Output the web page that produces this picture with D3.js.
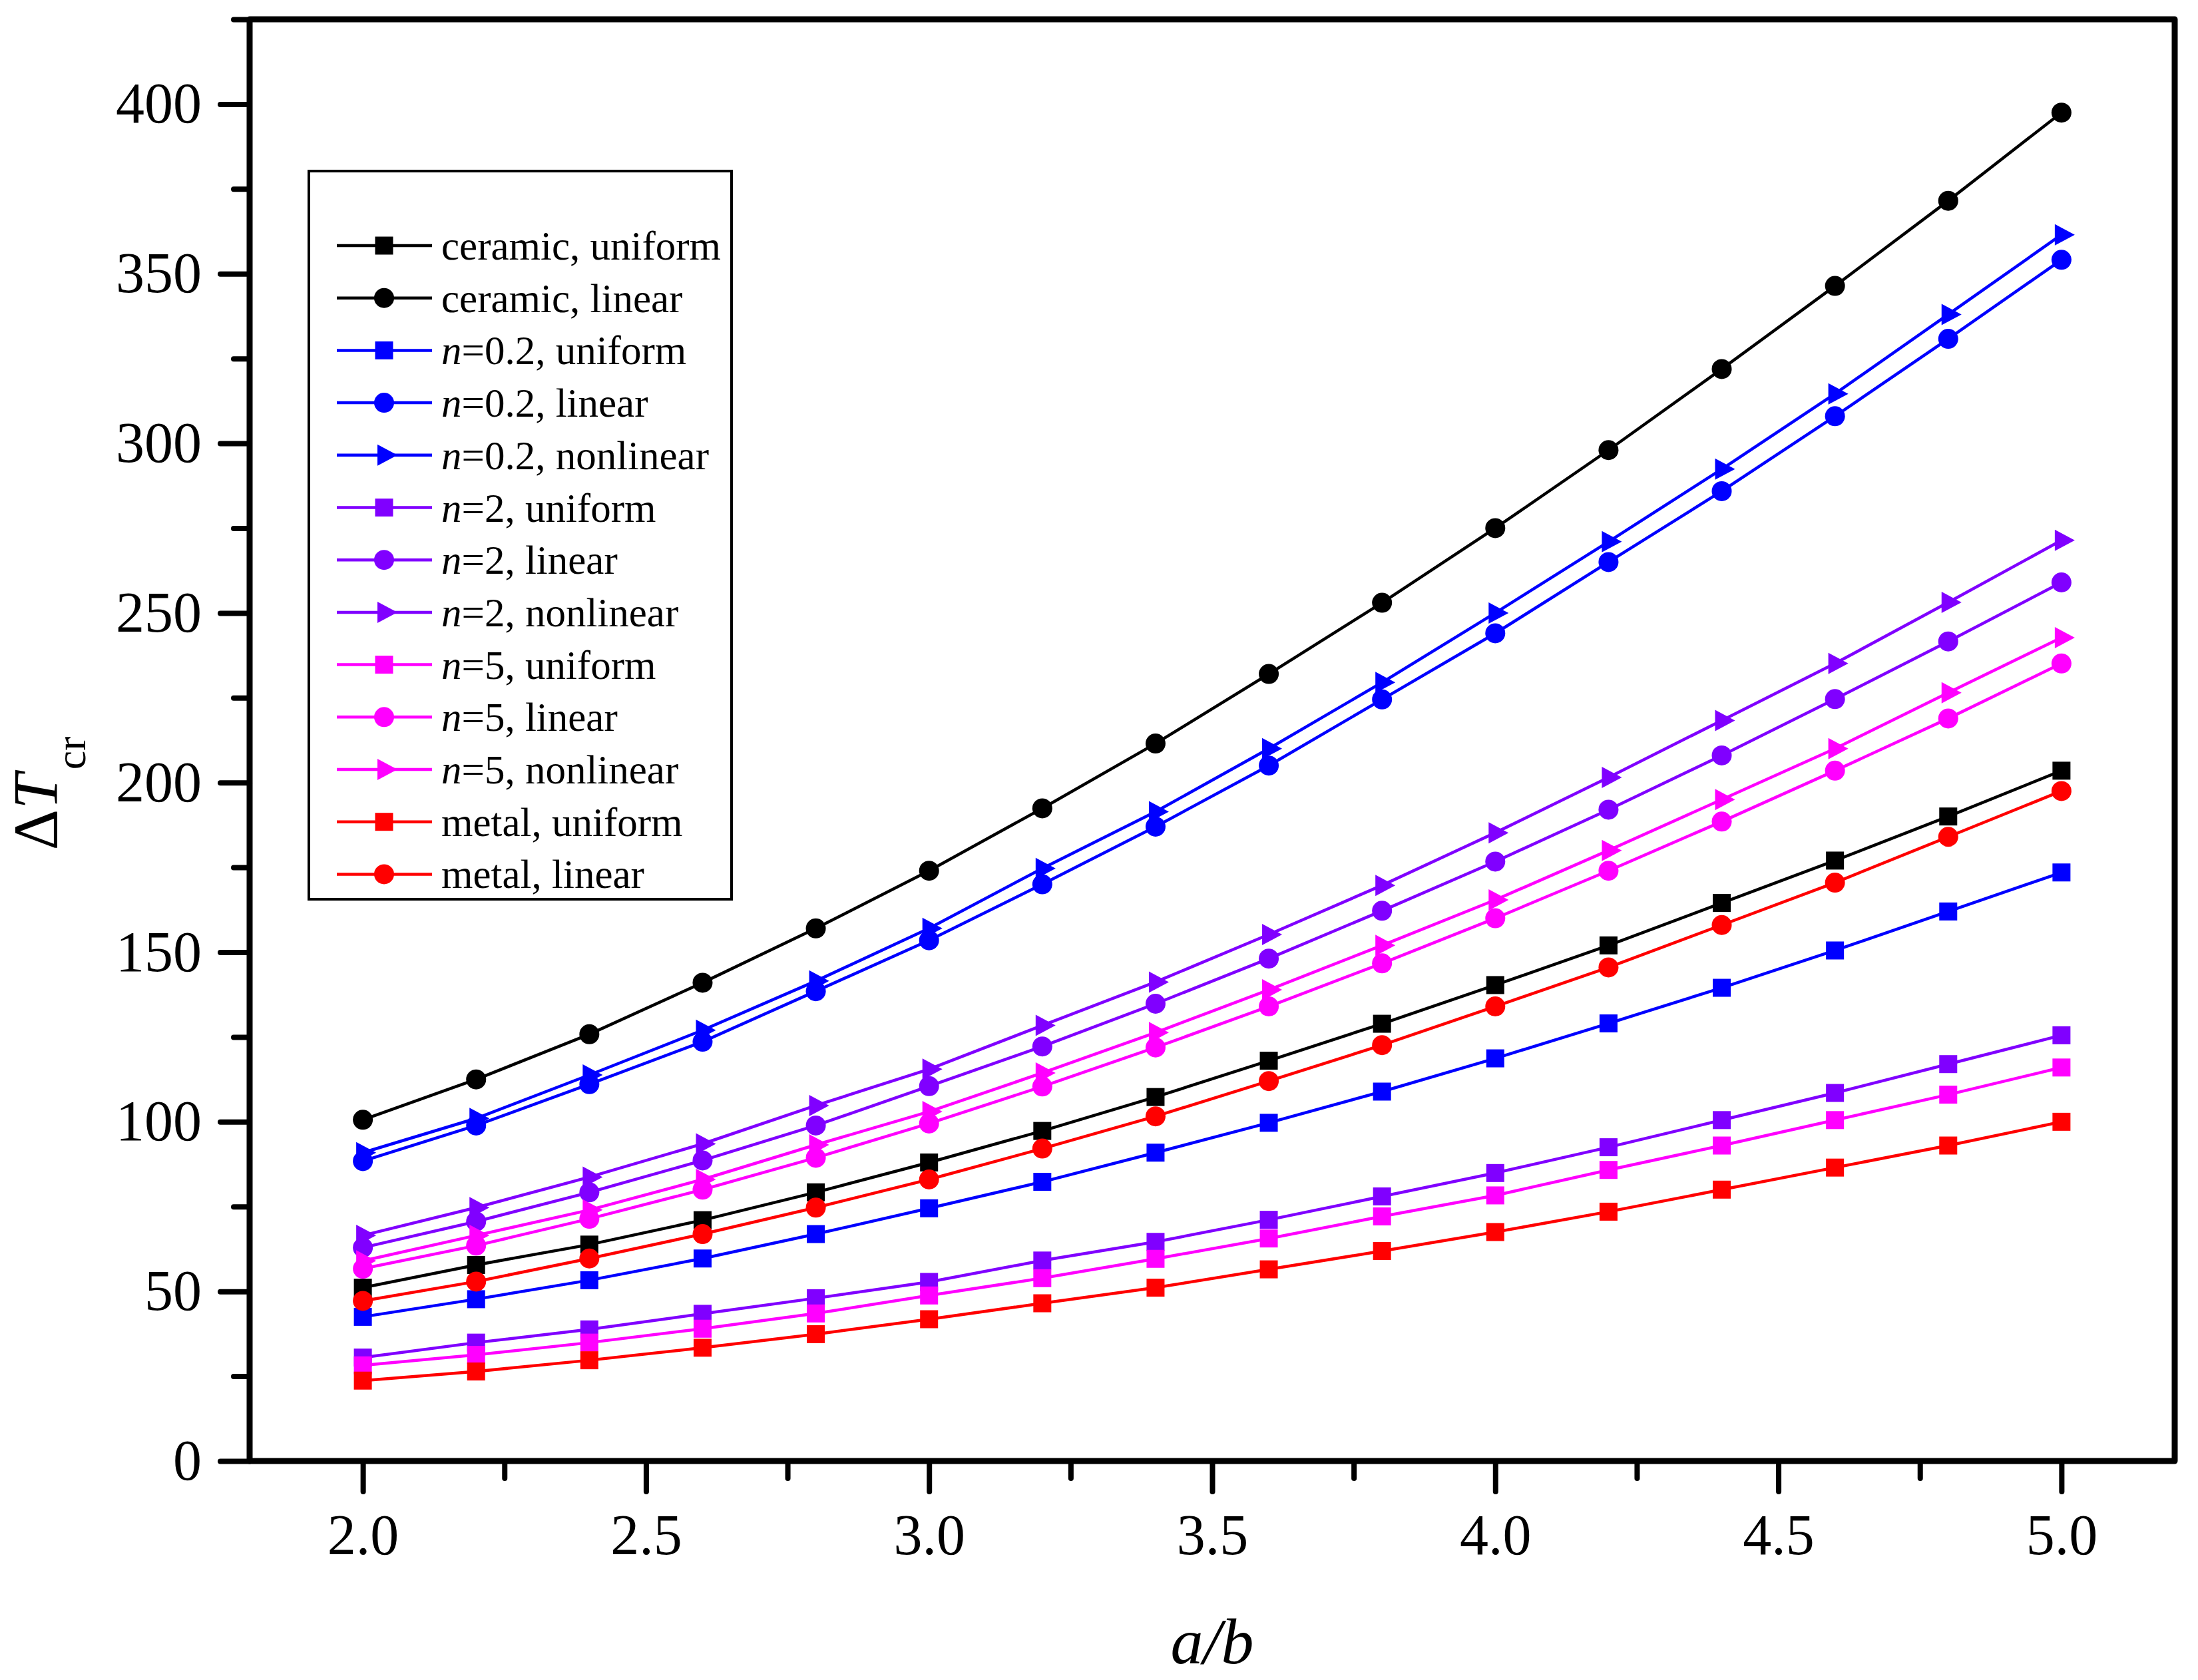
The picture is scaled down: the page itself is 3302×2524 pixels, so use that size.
<!DOCTYPE html>
<html>
<head>
<meta charset="utf-8">
<script src="https://cdn.jsdelivr.net/npm/d3@7"></script>
<style>
  html, body { margin: 0; padding: 0; background: #fff; }
  svg { display: block; }
  text { font-family: "Liberation Serif", "Times New Roman", serif; }
</style>
</head>
<body>
<svg id="chart" width="3302" height="2524"></svg>
<script>
// ---------------- data ----------------
const xValues = [2.0, 2.2, 2.4, 2.6, 2.8, 3.0, 3.2, 3.4, 3.6, 3.8, 4.0, 4.2, 4.4, 4.6, 4.8, 5.0];

const ceramicUniform = [51.1, 57.8, 63.8, 71.0, 79.2, 88.0, 97.3, 107.3, 118.0, 128.9, 140.3, 152.0, 164.5, 177.0, 190.0, 203.5];
const ceramicLinear  = [100.6, 112.5, 125.8, 141.0, 157.0, 174.0, 192.4, 211.5, 232.0, 253.0, 275.0, 298.0, 321.9, 346.4, 371.5, 397.5];
const n02Uniform     = [42.5, 47.7, 53.3, 59.7, 66.9, 74.5, 82.3, 90.9, 99.7, 108.9, 118.7, 129.0, 139.5, 150.5, 162.0, 173.5];
const n02Linear      = [88.4, 98.9, 111.1, 123.6, 138.5, 153.5, 170.0, 187.0, 205.0, 224.5, 244.0, 265.0, 285.9, 308.0, 330.8, 354.1];
const n02Nonlinear   = [90.9, 101.0, 113.8, 127.0, 141.5, 157.0, 174.7, 191.4, 210.0, 229.5, 250.0, 271.0, 292.4, 314.6, 338.0, 361.5];
const n2Uniform      = [30.5, 34.9, 38.8, 43.4, 48.0, 52.8, 59.1, 64.6, 71.1, 78.0, 84.9, 92.5, 100.5, 108.5, 117.0, 125.5];
const n2Linear       = [62.9, 70.6, 79.2, 88.6, 98.9, 110.5, 122.2, 134.8, 148.1, 162.2, 176.7, 192.0, 208.0, 224.6, 241.6, 259.0];
const n2Nonlinear    = [66.5, 74.7, 83.7, 93.5, 104.8, 115.5, 128.4, 141.2, 155.2, 169.7, 185.2, 201.5, 218.3, 235.1, 253.1, 271.4];
const n5Uniform      = [28.2, 31.3, 34.9, 39.0, 43.5, 48.8, 53.9, 59.6, 65.6, 72.1, 78.3, 85.8, 93.0, 100.5, 108.0, 116.0];
const n5Linear       = [56.7, 63.5, 71.4, 80.0, 89.4, 99.5, 110.4, 121.9, 134.0, 146.7, 160.0, 174.0, 188.5, 203.5, 218.9, 235.1];
const n5Nonlinear    = [59.0, 66.5, 74.0, 83.0, 93.2, 103.0, 114.4, 126.3, 138.9, 152.0, 165.4, 180.0, 195.0, 210.0, 226.5, 242.7];
const metalUniform   = [23.7, 26.4, 29.7, 33.4, 37.4, 41.8, 46.5, 51.1, 56.5, 61.9, 67.5, 73.5, 80.0, 86.5, 93.0, 100.0];
const metalLinear    = [47.2, 52.9, 59.7, 66.9, 74.7, 83.0, 92.1, 101.6, 112.0, 122.6, 134.0, 145.5, 158.0, 170.5, 184.0, 197.5];

// legend labels: [italic prefix, rest]
const seriesLabels = [
  ["", "ceramic, uniform"], ["", "ceramic, linear"],
  ["n", "=0.2, uniform"], ["n", "=0.2, linear"], ["n", "=0.2, nonlinear"],
  ["n", "=2, uniform"], ["n", "=2, linear"], ["n", "=2, nonlinear"],
  ["n", "=5, uniform"], ["n", "=5, linear"], ["n", "=5, nonlinear"],
  ["", "metal, uniform"], ["", "metal, linear"]
];
const seriesValues = [ceramicUniform, ceramicLinear, n02Uniform, n02Linear, n02Nonlinear,
  n2Uniform, n2Linear, n2Nonlinear, n5Uniform, n5Linear, n5Nonlinear, metalUniform, metalLinear];
const seriesColors = ["#000000", "#000000", "#0000FF", "#0000FF", "#0000FF",
  "#8000FF", "#8000FF", "#8000FF", "#FF00FF", "#FF00FF", "#FF00FF", "#FF0000", "#FF0000"];
const seriesShapes = ["square", "circle", "square", "circle", "triangle",
  "square", "circle", "triangle", "square", "circle", "triangle", "square", "circle"];

const xMajorTicks = [2.0, 2.5, 3.0, 3.5, 4.0, 4.5, 5.0];
const xMinorTicks = [2.25, 2.75, 3.25, 3.75, 4.25, 4.75];
const yMajorTicks = [0, 50, 100, 150, 200, 250, 300, 350, 400];
const yMinorTicks = [25, 75, 125, 175, 225, 275, 325, 375, 425];

// ---------------- layout ----------------
const L = 375, R = 3267, T = 29, B = 2195;
const svg = d3.select("#chart");
const x = d3.scaleLinear().domain([1.8, 5.2]).range([L, R]);
const y = d3.scaleLinear().domain([0, 425]).range([B, T]);

function styleAxis(g) {
  g.select(".domain").remove();
  g.selectAll(".tick line").attr("stroke", "#000").attr("stroke-width", 8).attr("stroke-linecap", "round");
}

// minor ticks
svg.append("g").attr("transform", `translate(0,${B})`)
  .call(d3.axisBottom(x).tickValues(xMinorTicks).tickSize(26).tickFormat(""))
  .call(styleAxis);
svg.append("g").attr("transform", `translate(${L},0)`)
  .call(d3.axisLeft(y).tickValues(yMinorTicks).tickSize(24).tickFormat(""))
  .call(styleAxis);

// major ticks
const xAx = svg.append("g").attr("transform", `translate(0,${B})`)
  .call(d3.axisBottom(x).tickValues(xMajorTicks).tickSize(46).tickPadding(33).tickFormat(d3.format(".1f")))
  .call(styleAxis);
xAx.selectAll(".tick text").attr("font-size", 86).attr("fill", "#000")
  .attr("font-family", "Liberation Serif, serif");

const yAx = svg.append("g").attr("transform", `translate(${L},0)`)
  .call(d3.axisLeft(y).tickValues(yMajorTicks).tickSize(44).tickPadding(28).tickFormat(d3.format("d")))
  .call(styleAxis);
yAx.selectAll(".tick text").attr("font-size", 86).attr("fill", "#000")
  .attr("font-family", "Liberation Serif, serif");

// frame
svg.append("rect").attr("x", L).attr("y", T).attr("width", R - L).attr("height", B - T)
  .attr("fill", "none").attr("stroke", "#000").attr("stroke-width", 9).attr("stroke-linejoin", "round");

// ---------------- series ----------------
const line = d3.line().x((d, i) => x(xValues[i])).y(d => y(d));

function drawMarker(g, shape, color) {
  if (shape === "square") {
    g.append("rect").attr("x", -13.5).attr("y", -13.5).attr("width", 27).attr("height", 27).attr("fill", color);
  } else if (shape === "circle") {
    g.append("circle").attr("r", 15).attr("fill", color);
  } else {
    g.append("path").attr("d", "M-10,-16L20,0L-10,16Z").attr("fill", color);
  }
}

const plot = svg.append("g");
seriesValues.forEach((vals, si) => {
  const color = seriesColors[si];
  const g = plot.append("g");
  g.append("path").datum(vals).attr("d", line)
    .attr("fill", "none").attr("stroke", color).attr("stroke-width", 4.5);
  vals.forEach((v, i) => {
    const m = g.append("g").attr("transform", `translate(${x(xValues[i])},${y(v)})`);
    drawMarker(m, seriesShapes[si], color);
  });
});

// ---------------- legend ----------------
const lg = svg.append("g");
lg.append("rect").attr("x", 464).attr("y", 257).attr("width", 635).attr("height", 1094)
  .attr("fill", "#fff").attr("stroke", "#000").attr("stroke-width", 4);
seriesLabels.forEach((lab, i) => {
  const ry = 369 + i * 78.7;
  const color = seriesColors[i];
  lg.append("line").attr("x1", 506).attr("x2", 649).attr("y1", ry).attr("y2", ry)
    .attr("stroke", color).attr("stroke-width", 4.5);
  const m = lg.append("g").attr("transform", `translate(577,${ry})`);
  drawMarker(m, seriesShapes[i], color);
  const t = lg.append("text").attr("x", 663).attr("y", ry + 21).attr("font-size", 61).attr("fill", "#000");
  if (lab[0]) t.append("tspan").attr("font-style", "italic").text(lab[0]);
  t.append("tspan").text(lab[1]);
});

// ---------------- axis titles ----------------
const yt = svg.append("text").attr("transform", "translate(86,1192) rotate(-90)")
  .attr("text-anchor", "middle").attr("font-size", 96).attr("fill", "#000");
yt.append("tspan").text("Δ");
yt.append("tspan").attr("font-style", "italic").text("T");
yt.append("tspan").attr("font-size", 64).attr("dy", 42).attr("dx", 6).text("cr");

svg.append("text").attr("x", (L + R) / 2).attr("y", 2499).attr("text-anchor", "middle")
  .attr("font-size", 98).attr("font-style", "italic").attr("fill", "#000").text("a/b");
</script>
</body>
</html>
